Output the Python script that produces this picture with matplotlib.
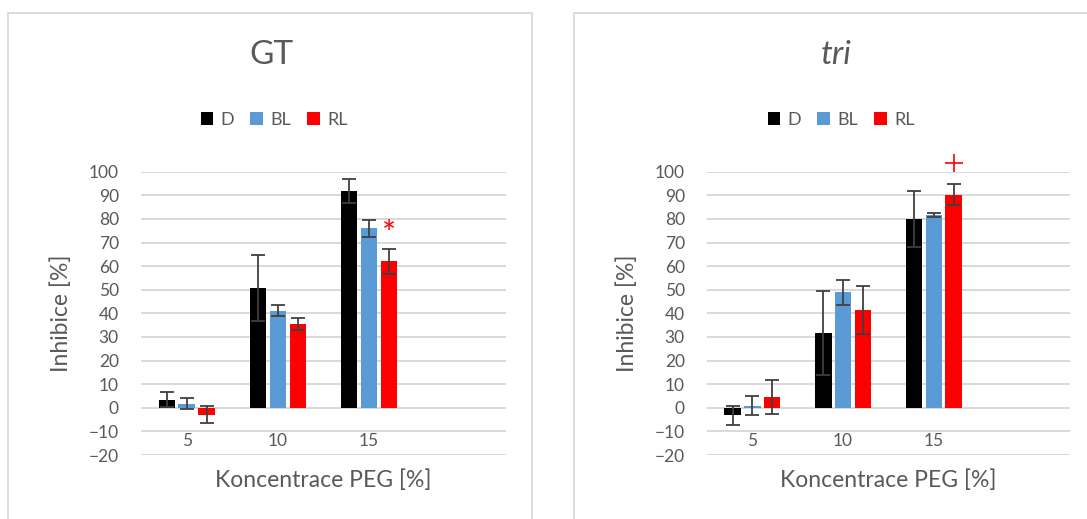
import matplotlib.pyplot as plt
import numpy as np
from matplotlib.patches import Rectangle

plt.rcParams['font.family'] = ['Lato', 'DejaVu Sans']

# PEG concentrations (the fourth slot on the axis stays empty)
categories = ['5', '10', '15']
series = ['D', 'BL', 'RL']
colors = ['#000000', '#5B9BD5', '#FF0000']

# GT - inhibition [%] and error
gt_D = [3.5, 50.6, 91.8]
gt_BL = [1.8, 41.2, 76.0]
gt_RL = [-2.9, 35.5, 62.0]
gt_D_err = [3.0, 14.0, 5.0]
gt_BL_err = [2.3, 2.3, 3.5]
gt_RL_err = [3.7, 2.5, 5.2]

# tri - inhibition [%] and error
tri_D = [-3.2, 31.6, 79.9]
tri_BL = [0.9, 48.9, 81.5]
tri_RL = [4.5, 41.4, 90.3]
tri_D_err = [4.0, 17.7, 12.0]
tri_BL_err = [4.1, 5.4, 0.8]
tri_RL_err = [7.2, 10.2, 4.6]

TEXT = '#595959'
GRID = '#D9D9D9'
W, H = 1087, 519

fig = plt.figure(figsize=(W / 100, H / 100), dpi=100)


def px_box(x0, x1, ytop, ybot):
    return [x0 / W, 1 - ybot / H, (x1 - x0) / W, (ybot - ytop) / H]


def draw_panel(ax, values, errors, title, italic, legend_x, title_x):
    x = np.arange(len(categories))
    width = 0.18
    step = 0.218
    for i, (vals, errs, col, name) in enumerate(zip(values, errors, colors, series)):
        ax.bar(x + (i - 1) * step, vals, width, color=col, label=name, zorder=3)
        ax.errorbar(x + (i - 1) * step, vals, yerr=errs, fmt='none', ecolor='#404040',
                    elinewidth=1.3, capsize=5.2, capthick=1.3, zorder=4)

    ax.set_xlim(-0.5, 3.5)
    ax.set_ylim(-20, 100)
    ax.set_yticks(np.arange(-20, 101, 10))
    ax.yaxis.grid(True, color=GRID, linewidth=1.4, zorder=0)
    ax.set_xticks([])
    for s in ax.spines.values():
        s.set_visible(False)
    ax.tick_params(axis='y', length=0, pad=16, labelsize=12.5, labelcolor=TEXT)

    # category labels sit just under the zero line
    for xi, cat in zip(x, categories):
        ax.text(xi, -14, cat, ha='center', va='center', fontsize=12.5, color=TEXT)

    ax.set_ylabel('Inhibice [%]', fontsize=16.5, color=TEXT)
    ax.yaxis.set_label_coords(-0.19, 0.5)
    ax.set_xlabel('Koncentrace PEG [%]', fontsize=16.5, color=TEXT)
    ax.xaxis.set_label_coords(0.5, -0.05)

    fig.text(title_x / W, 1 - 55 / H, title, ha='center', va='center', fontsize=24,
             color=TEXT, style='italic' if italic else 'normal')
    ax.legend(loc='center', bbox_to_anchor=(legend_x / W, 1 - 120 / H),
              bbox_transform=fig.transFigure, ncol=3, frameon=False, fontsize=13,
              handlelength=0.7, handleheight=0.7, handletextpad=0.4,
              columnspacing=0.9, labelcolor=TEXT)


# chart frames
fig.patches.append(Rectangle((7.5 / W, -0.1), (532 - 7.5) / W, 1.1 - 12.5 / H,
                             transform=fig.transFigure, fill=False, edgecolor=GRID,
                             linewidth=1.3))
fig.patches.append(Rectangle((573.5 / W, -0.1), 0.5, 1.1 - 12.5 / H,
                             transform=fig.transFigure, fill=False, edgecolor=GRID,
                             linewidth=1.3))

ax1 = fig.add_axes(px_box(141, 506, 171.7, 455))
draw_panel(ax1, [gt_D, gt_BL, gt_RL], [gt_D_err, gt_BL_err, gt_RL_err],
           'GT', False, 274, 271)
# significance mark beside the RL bar at 15 %
ax1.text(2 + 0.218, 73, '*', color='red', fontsize=24, ha='center', va='center')

ax2 = fig.add_axes(px_box(707, 1070, 171.7, 455))
draw_panel(ax2, [tri_D, tri_BL, tri_RL], [tri_D_err, tri_BL_err, tri_RL_err],
           'tri', True, 841, 836)
ax2.plot(2 + 0.218, 103.8, marker='+', markersize=13, markeredgewidth=1.2,
         color='red', clip_on=False, zorder=5)

fig.savefig('out.png', dpi=100)
